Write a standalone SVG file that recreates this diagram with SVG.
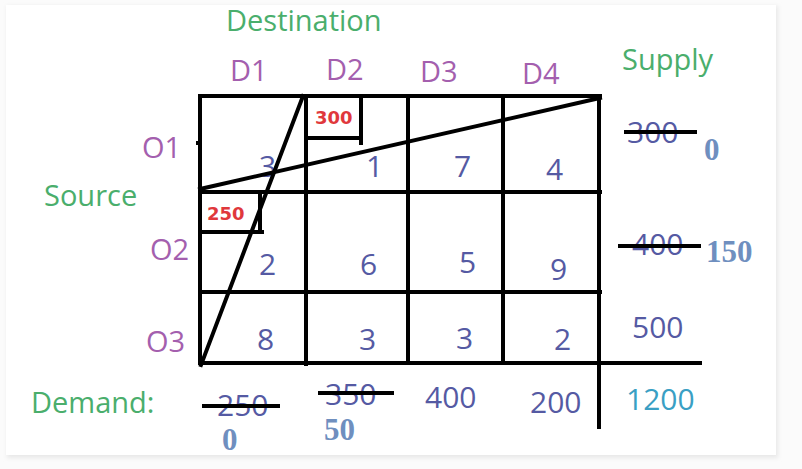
<svg xmlns="http://www.w3.org/2000/svg" width="802" height="469" viewBox="0 0 802 469">
<defs>
<style>
.lbl{font-family:"Open Sans","Liberation Sans",sans-serif;font-size:29px}
.green{fill:#4aae6c}
.purple{fill:#a45fae}
.num{font-family:"Open Sans","Liberation Sans",sans-serif;font-size:30px;fill:#555aa3}
.red{font-family:"DejaVu Sans",sans-serif;font-weight:bold;font-size:18px;fill:#e0383c}
.rem{font-family:"Liberation Serif",serif;font-weight:bold;font-size:31px;fill:#6f8fbf}
.ln{stroke:#000;stroke-width:4;fill:none;stroke-linecap:square}
</style>
<filter id="sh" x="-5%" y="-5%" width="110%" height="110%"><feGaussianBlur stdDeviation="2"/></filter>
</defs>
<rect width="802" height="469" fill="#fbfbfb"/>
<rect x="7" y="6" width="771" height="452" fill="#e8e8e8" filter="url(#sh)"/>
<rect x="6" y="5" width="770" height="450" fill="#ffffff"/>

<g id="headers">
<text class="lbl green" x="226" y="31">Destination</text>
<text class="lbl green" x="622" y="70">Supply</text>
<text class="lbl green" x="44" y="206">Source</text>
<text class="lbl green" x="31" y="413">Demand:</text>
<text class="lbl purple" x="230" y="81">D1</text>
<text class="lbl purple" x="326" y="80">D2</text>
<text class="lbl purple" x="420" y="82">D3</text>
<text class="lbl purple" x="522" y="84">D4</text>
<text class="lbl purple" x="142" y="158">O1</text>
<text class="lbl purple" x="150" y="260">O2</text>
<text class="lbl purple" x="146" y="352">O3</text>
</g>

<g id="costs">
<text class="num" x="259" y="177">3</text>
<text class="num" x="366" y="177">1</text>
<text class="num" x="454" y="177">7</text>
<text class="num" x="546" y="180">4</text>
<text class="num" x="259" y="275">2</text>
<text class="num" x="360" y="275">6</text>
<text class="num" x="459" y="273">5</text>
<text class="num" x="550" y="280">9</text>
<text class="num" x="257" y="350">8</text>
<text class="num" x="359" y="350">3</text>
<text class="num" x="456" y="349">3</text>
<text class="num" x="554" y="350">2</text>
</g>

<g id="supply">
<text class="num" x="627" y="143">300</text>
<text class="rem" x="704" y="160">0</text>
<text class="num" x="632" y="255">400</text>
<text class="rem" x="706" y="262">150</text>
<text class="num" x="632" y="338">500</text>
<text class="num" x="626" y="410" style="fill:#3a9fc4">1200</text>
</g>

<g id="demand">
<text class="num" x="217" y="416">250</text>
<text class="rem" x="222" y="450">0</text>
<text class="num" x="325" y="405">350</text>
<text class="rem" x="324" y="440">50</text>
<text class="num" x="425" y="408">400</text>
<text class="num" x="530" y="413">200</text>
</g>

<g id="allocations">
<text class="red" x="315" y="124">300</text>
<text class="red" x="207" y="220">250</text>
</g>

<g id="connectors">
<line class="ln" x1="200" y1="96" x2="600" y2="96"/>
<line class="ln" x1="200" y1="192" x2="600" y2="192"/>
<line class="ln" x1="200" y1="292" x2="600" y2="292"/>
<line class="ln" x1="200" y1="363" x2="700" y2="363"/>
<line class="ln" x1="200" y1="96" x2="200" y2="363"/>
<line class="ln" x1="306" y1="96" x2="306" y2="364"/>
<line class="ln" x1="408" y1="96" x2="408" y2="363"/>
<line class="ln" x1="503" y1="96" x2="503" y2="363"/>
<line class="ln" x1="599" y1="96" x2="599" y2="427"/>
<line class="ln" x1="198" y1="143" x2="199" y2="143"/>
<line class="ln" x1="200" y1="189" x2="600" y2="98"/>
<line class="ln" x1="303" y1="96" x2="201" y2="365"/>
<polyline class="ln" points="361,96 361,143"/>
<line class="ln" x1="307" y1="138" x2="361" y2="138"/>
<polyline class="ln" points="260,192 260,232"/>
<line class="ln" x1="200" y1="232" x2="262" y2="232"/>
<line class="ln" x1="626" y1="132" x2="695" y2="132"/>
<line class="ln" x1="620" y1="246" x2="699" y2="246"/>
<line class="ln" x1="204" y1="406" x2="278" y2="406"/>
<line class="ln" x1="320" y1="393" x2="392" y2="393"/>
</g>
</svg>
